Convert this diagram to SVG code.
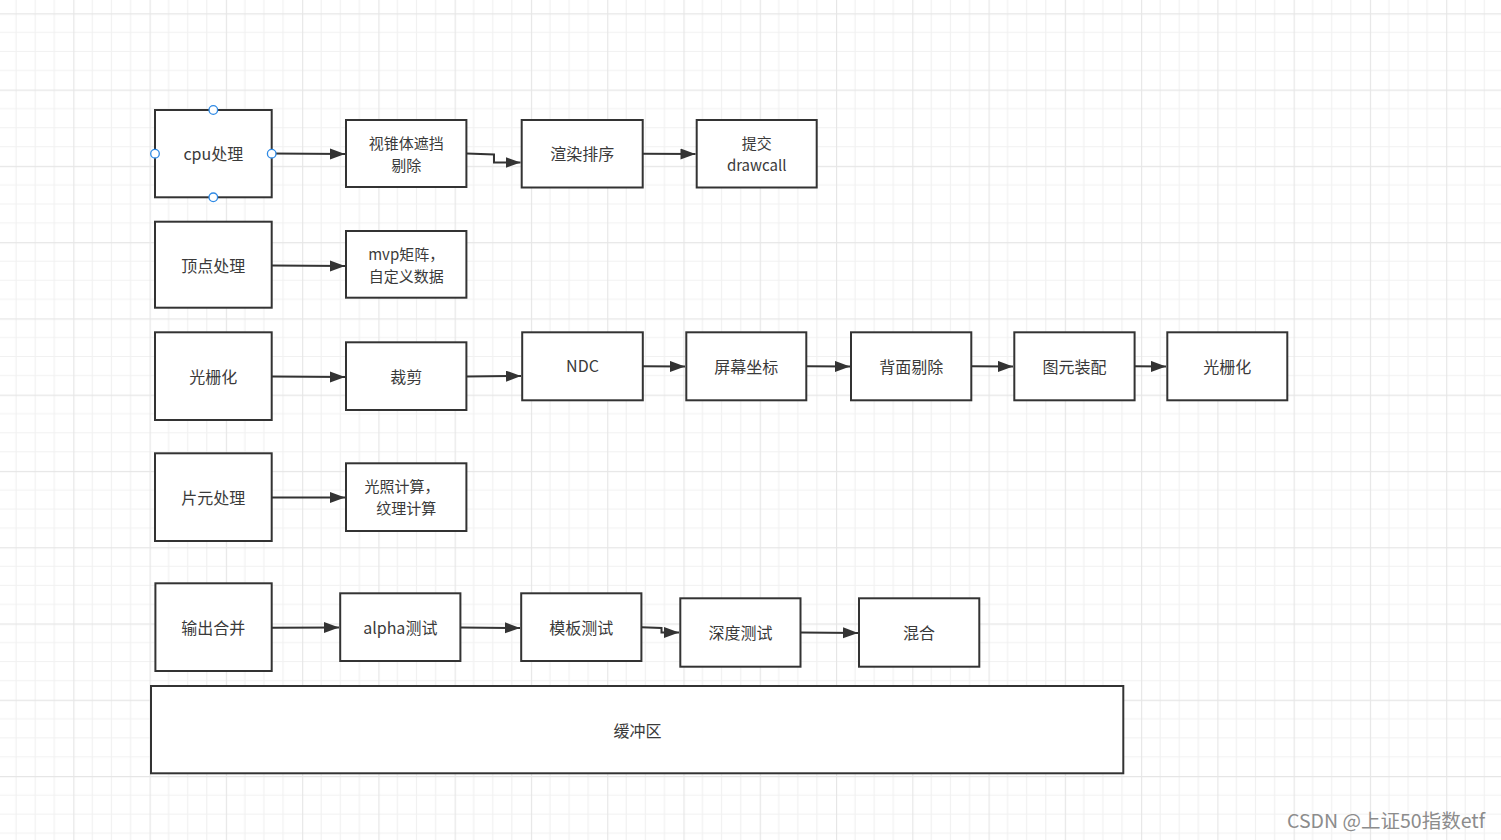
<svg xmlns="http://www.w3.org/2000/svg" width="1501" height="840" viewBox="0 0 1501 840">
  <style>
    .box { fill: #ffffff; stroke: #333333; stroke-width: 2; }
    .lbl { font-family: "Noto Sans CJK SC", "Liberation Sans", sans-serif; font-size: 16px; fill: #3a3a3a; text-anchor: middle; dominant-baseline: central; }
    .lbl2 { font-size: 15px; }
    .edge { fill: none; stroke: #333333; stroke-width: 2; marker-end: url(#arrow); }
    .handle { fill: #ffffff; stroke: #2f8ae5; stroke-width: 1.3; }
    .mark { font-family: "Noto Sans CJK SC", "Liberation Sans", sans-serif; font-size: 19px; fill: #8c8c8c; }
  </style>
  <defs>
    <pattern id="grid" patternUnits="userSpaceOnUse" x="-2.97" y="13.3" width="76.27" height="76.27">
      <path d="M19.07 0V76.27M38.13 0V76.27M57.2 0V76.27M0 19.07H76.27M0 38.13H76.27M0 57.2H76.27" stroke="#f1f1f1" stroke-width="1.2" fill="none"/>
      <path d="M0.5 0V76.27M0 0.5H76.27" stroke="#e6e6e6" stroke-width="1.3" fill="none"/>
    </pattern>
    <marker id="arrow" markerUnits="userSpaceOnUse" markerWidth="16" markerHeight="12" refX="15" refY="5.5" orient="auto">
      <path d="M0 0L15 5.5L0 11z" fill="#333333"/>
    </marker>
  </defs>

  <rect width="1501" height="840" fill="#ffffff"/>
  <rect width="1501" height="840" fill="url(#grid)"/>

  <!-- connectors -->
  <g id="connectors">
    <path class="edge" d="M271.5 153.5L345 154"/>
    <path class="edge" d="M466.5 153.5L494 154.5V162.5H520.5"/>
    <path class="edge" d="M642.5 153.8L695.5 154"/>
    <path class="edge" d="M271.5 265.5L345 266"/>
    <path class="edge" d="M271.5 376.5L345 377"/>
    <path class="edge" d="M466.5 376.5L521 376"/>
    <path class="edge" d="M642.5 366.3L685 366.5"/>
    <path class="edge" d="M806.5 366.3L850 366.5"/>
    <path class="edge" d="M971.5 366.3L1013 366.5"/>
    <path class="edge" d="M1134.5 366.3L1166 366.5"/>
    <path class="edge" d="M271.5 497.5L345 497.5"/>
    <path class="edge" d="M271.5 627.8L339 627.5"/>
    <path class="edge" d="M460.5 627.5L520 628"/>
    <path class="edge" d="M641.5 627.3L661.5 628V632.5H679"/>
    <path class="edge" d="M800.5 632.5L858 633"/>
  </g>

  <!-- application stage -->
  <g id="node-cpu">
    <rect class="box" x="155" y="110" width="116.7" height="87.3"/>
    <text class="lbl" x="213.3" y="153">cpu处理</text>
    <circle class="handle" cx="213.3" cy="110" r="4.3"/>
    <circle class="handle" cx="155" cy="153.7" r="4.3"/>
    <circle class="handle" cx="271.7" cy="153.7" r="4.3"/>
    <circle class="handle" cx="213.3" cy="197.3" r="4.3"/>
  </g>
  <g id="node-culling">
    <rect class="box" x="346" y="120" width="120.4" height="67"/>
    <text class="lbl lbl2" x="406.2" y="142.5">视锥体遮挡</text>
    <text class="lbl lbl2" x="406.2" y="164.5">剔除</text>
  </g>
  <g id="node-sort">
    <rect class="box" x="521.7" y="120" width="121" height="67.5"/>
    <text class="lbl" x="582.2" y="153">渲染排序</text>
  </g>
  <g id="node-drawcall">
    <rect class="box" x="696.7" y="120" width="120" height="67.5"/>
    <text class="lbl lbl2" x="756.7" y="142.5">提交</text>
    <text class="lbl lbl2" x="756.7" y="164.5">drawcall</text>
  </g>

  <!-- vertex stage -->
  <g id="node-vertex">
    <rect class="box" x="155" y="221.7" width="116.7" height="86"/>
    <text class="lbl" x="213.3" y="264.5">顶点处理</text>
  </g>
  <g id="node-mvp">
    <rect class="box" x="346" y="231" width="120.4" height="66.7"/>
    <text class="lbl lbl2" x="406.2" y="253.5">mvp矩阵，</text>
    <text class="lbl lbl2" x="406.2" y="275.5">自定义数据</text>
  </g>

  <!-- rasterization stage -->
  <g id="node-raster">
    <rect class="box" x="155" y="332.3" width="116.7" height="87.7"/>
    <text class="lbl" x="213.3" y="375.5">光栅化</text>
  </g>
  <g id="node-clip">
    <rect class="box" x="346" y="342.3" width="120.4" height="67.7"/>
    <text class="lbl" x="406.2" y="375.5">裁剪</text>
  </g>
  <g id="node-ndc">
    <rect class="box" x="522.2" y="332.3" width="120.6" height="68"/>
    <text class="lbl" x="582.5" y="365">NDC</text>
  </g>
  <g id="node-screen">
    <rect class="box" x="686.3" y="332.3" width="120" height="68"/>
    <text class="lbl" x="746.3" y="365.5">屏幕坐标</text>
  </g>
  <g id="node-backface">
    <rect class="box" x="851" y="332.3" width="120.3" height="68"/>
    <text class="lbl" x="911.2" y="365.5">背面剔除</text>
  </g>
  <g id="node-assembly">
    <rect class="box" x="1014.3" y="332.3" width="120.3" height="68"/>
    <text class="lbl" x="1074.5" y="365.5">图元装配</text>
  </g>
  <g id="node-raster2">
    <rect class="box" x="1167.3" y="332.3" width="120" height="68"/>
    <text class="lbl" x="1227.3" y="365.5">光栅化</text>
  </g>

  <!-- fragment stage -->
  <g id="node-fragment">
    <rect class="box" x="155" y="453.3" width="116.7" height="87.7"/>
    <text class="lbl" x="213.3" y="497">片元处理</text>
  </g>
  <g id="node-lighting">
    <rect class="box" x="346" y="463.3" width="120.4" height="67.7"/>
    <text class="lbl lbl2" x="402" y="485.5">光照计算，</text>
    <text class="lbl lbl2" x="406.2" y="507.5">纹理计算</text>
  </g>

  <!-- output merge stage -->
  <g id="node-merge">
    <rect class="box" x="155.4" y="583.3" width="116.3" height="87.7"/>
    <text class="lbl" x="213.3" y="627">输出合并</text>
  </g>
  <g id="node-alpha">
    <rect class="box" x="340.2" y="593.3" width="120.2" height="67.7"/>
    <text class="lbl" x="400.3" y="627">alpha测试</text>
  </g>
  <g id="node-stencil">
    <rect class="box" x="521.2" y="593.3" width="120.2" height="67.7"/>
    <text class="lbl" x="581.3" y="627">模板测试</text>
  </g>
  <g id="node-depth">
    <rect class="box" x="680.3" y="598.3" width="120.2" height="68.4"/>
    <text class="lbl" x="740.4" y="632">深度测试</text>
  </g>
  <g id="node-blend">
    <rect class="box" x="859" y="598.3" width="120.3" height="68.4"/>
    <text class="lbl" x="919" y="632">混合</text>
  </g>
  <g id="node-buffer">
    <rect class="box" x="151" y="686" width="972.3" height="87.3"/>
    <text class="lbl" x="637.5" y="729.5">缓冲区</text>
  </g>

  <text class="mark" x="1287" y="828" textLength="198" lengthAdjust="spacingAndGlyphs">CSDN @上证50指数etf</text>
</svg>
